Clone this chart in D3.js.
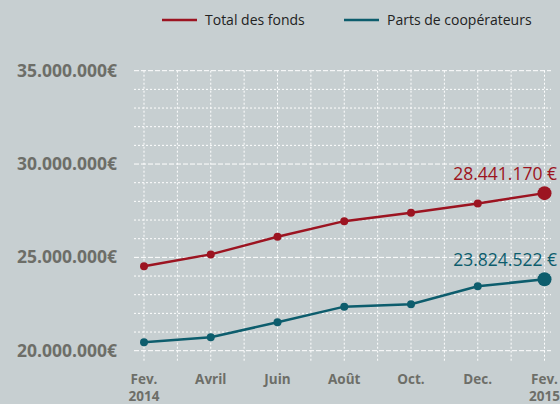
<!DOCTYPE html>
<html>
<head>
<meta charset="utf-8">
<script src="https://cdn.jsdelivr.net/npm/d3@7"></script>
<style>
  body { margin: 0; background: #c7cfd1; }
  svg { display: block; font-family: "Open Sans", sans-serif; }
</style>
</head>
<body>
<script>
// months since Feb 2014
const months = [0, 2, 4, 6, 8, 10, 12];
const monthLabels = [["Fev.", "2014"], ["Avril"], ["Juin"], ["Août"], ["Oct."], ["Dec."], ["Fev.", "2015"]];
const totalFonds = [24520000, 25160000, 26100000, 26940000, 27390000, 27890000, 28441170];
const partsCoop = [20450000, 20720000, 21520000, 22360000, 22490000, 23450000, 23824522];
const yTicks = [20000000, 25000000, 30000000, 35000000];
const seriesNames = ["Total des fonds", "Parts de coopérateurs"];
const colors = ["#9c1421", "#0d5d6d"];

const width = 560, height = 404;
const svg = d3.select("body").append("svg").attr("width", width).attr("height", height);

const x = d3.scaleLinear().domain([0, 12]).range([144, 544.5]);
const y = d3.scaleLinear().domain([20000000, 35000000]).range([350.7, 70.7]);

const fmt = v => d3.format(",")(v).replace(/,/g, ".");

// grid
const grid = svg.append("g").attr("stroke", "#fff").attr("fill", "none");
grid.selectAll("line.v")
  .data(d3.range(0, 13))
  .join("line")
    .attr("x1", d => x(d)).attr("x2", d => x(d))
    .attr("y1", y(35000000)).attr("y2", 362)
    .attr("stroke-width", 1)
    .attr("stroke-dasharray", "2,2");
grid.selectAll("line.h")
  .data(d3.range(20000000, 35000001, 1000000))
  .join("line")
    .attr("x1", 134).attr("x2", 551)
    .attr("y1", d => y(d)).attr("y2", d => y(d))
    .attr("stroke-width", 1)
    .attr("stroke-dasharray", d => d % 5000000 === 0 ? "5,2" : "2,2");

// y axis labels
svg.append("g")
  .selectAll("text")
  .data(yTicks)
  .join("text")
    .attr("x", 117)
    .attr("y", d => y(d))
    .attr("dy", "0.35em")
    .attr("text-anchor", "end")
    .attr("fill", "#6d6e68")
    .attr("font-weight", "bold")
    .attr("font-size", 17.5)
    .text(d => fmt(d) + "€");

// x axis labels
const xl = svg.append("g")
  .selectAll("text")
  .data(months)
  .join("text")
    .attr("x", d => x(d))
    .attr("y", 384)
    .attr("text-anchor", "middle")
    .attr("fill", "#6d6e68")
    .attr("font-weight", "bold")
    .attr("font-size", 13.5);
xl.each(function(d, i) {
  const t = d3.select(this);
  monthLabels[i].forEach((s, j) => {
    t.append("tspan").attr("x", x(d)).attr("dy", j ? 17 : 0).text(s);
  });
});

// lines
const line = d3.line().x((d, i) => x(months[i])).y(d => y(d));
[totalFonds, partsCoop].forEach((data, k) => {
  const g = svg.append("g");
  g.append("path")
    .datum(data)
    .attr("fill", "none")
    .attr("stroke", colors[k])
    .attr("stroke-width", 2.5)
    .attr("d", line);
  g.selectAll("circle")
    .data(data)
    .join("circle")
      .attr("cx", (d, i) => x(months[i]))
      .attr("cy", d => y(d))
      .attr("r", (d, i) => i === data.length - 1 ? 7 : 4)
      .attr("fill", colors[k]);
  const last = data[data.length - 1];
  g.append("text")
    .attr("x", 557)
    .attr("y", y(last) - 13)
    .attr("text-anchor", "end")
    .attr("fill", colors[k])
    .attr("font-size", 17.5)
    .text(fmt(last) + " €");
});

// legend
const legendX = [162, 344];
const lg = svg.append("g");
seriesNames.forEach((name, k) => {
  lg.append("line")
    .attr("x1", legendX[k]).attr("x2", legendX[k] + 35)
    .attr("y1", 20).attr("y2", 20)
    .attr("stroke", colors[k]).attr("stroke-width", 2.5);
  lg.append("text")
    .attr("x", legendX[k] + 43)
    .attr("y", 20)
    .attr("dy", "0.35em")
    .attr("fill", "#222")
    .attr("font-size", 14)
    .text(name);
});
</script>
</body>
</html>
